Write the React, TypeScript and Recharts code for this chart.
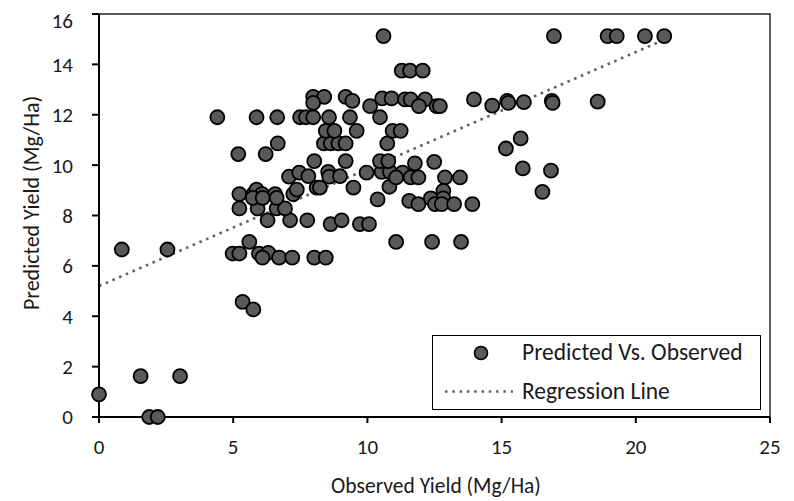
import React from 'react';
import { ScatterChart, Scatter, XAxis, YAxis, ReferenceLine, ReferenceArea } from 'recharts';

const observed = [
  0, 1.87, 2.19, 1.55, 3.02, 0.85, 2.55, 5.35, 5.75, 4.98, 5.23, 5.96, 6.31, 6.09, 6.71, 7.2, 8.02, 8.45, 5.6, 11.07, 12.41, 13.49,
  6.28, 7.12, 7.76, 8.63, 9.04, 9.72, 10.06,
  5.23, 5.91, 6.62, 6.93,
  5.23, 5.75, 5.87, 6.08, 6.56, 5.73, 6.1, 6.62, 7.24, 7.37, 8.11, 8.23, 9.48, 10.82, 10.38,
  7.08, 7.46, 7.8, 8.54, 8.58, 8.98, 9.97, 10.53, 10.84, 11.31, 11.07, 11.61, 11.9, 12.89, 13.45,
  8.02, 9.19, 10.47, 10.78, 11.77, 12.49,
  5.19, 6.21,
  6.66, 8.38, 8.64, 8.92, 9.19, 10.74,
  8.45, 8.77, 9.6, 10.94, 11.24,
  4.41, 5.87, 6.64, 7.49, 7.71, 7.98, 8.57, 9.35, 10.47,
  7.98, 8.39, 9.19, 9.44, 10.55, 10.9, 7.98, 10.1, 11.4, 11.61, 12.15, 11.92, 12.58, 12.7, 13.97, 14.65, 15.21, 15.25, 15.83, 16.87, 16.9, 18.58,
  11.28, 11.59, 12.06,
  10.6, 16.95, 18.95, 19.29, 20.34, 21.06,
  15.71, 15.16, 15.79, 16.84, 16.52,
  12.36, 12.83, 12.83, 11.56, 11.9, 12.52, 12.77, 13.23, 13.91,
];

const predicted = [
  0.9, 0, 0, 1.62, 1.62, 6.65, 6.65, 4.57, 4.27, 6.49, 6.49, 6.49, 6.52, 6.33, 6.33, 6.33, 6.33, 6.33, 6.95, 6.95, 6.95, 6.95,
  7.81, 7.81, 7.81, 7.66, 7.81, 7.66, 7.66,
  8.28, 8.28, 8.28, 8.28,
  8.85, 8.85, 9.03, 8.85, 8.85, 8.7, 8.7, 8.7, 8.85, 9.03, 9.11, 9.11, 9.11, 9.14, 8.64,
  9.54, 9.7, 9.56, 9.73, 9.54, 9.56, 9.7, 9.73, 9.73, 9.7, 9.51, 9.51, 9.51, 9.51, 9.51,
  10.16, 10.16, 10.16, 10.16, 10.07, 10.13,
  10.44, 10.44,
  10.86, 10.86, 10.86, 10.86, 10.86, 10.86,
  11.36, 11.36, 11.36, 11.36, 11.36,
  11.9, 11.9, 11.9, 11.9, 11.9, 11.9, 11.9, 11.9, 11.9,
  12.71, 12.71, 12.71, 12.55, 12.65, 12.65, 12.47, 12.34, 12.61, 12.61, 12.61, 12.34, 12.34, 12.34, 12.61, 12.36, 12.55, 12.47, 12.5, 12.55, 12.47, 12.52,
  13.75, 13.75, 13.75,
  15.12, 15.12, 15.12, 15.12, 15.12, 15.12,
  11.06, 10.66, 9.87, 9.78, 8.94,
  8.68, 8.98, 8.68, 8.58, 8.45, 8.45, 8.45, 8.45, 8.45,
];

const xTicks = [0, 5, 10, 15, 20, 25];
const yTicks = [0, 2, 4, 6, 8, 10, 12, 14, 16];

// regression line end points
const regressionStart = { x: 0, y: 5.2 };
const regressionEnd = { x: 21.1, y: 15.0 };

const points = observed.map((x, i) => ({ x, y: predicted[i] }));

const FONT = 'Carlito, Lato, sans-serif';
const TEXT = '#1a1a1a';
const DOT_FILL = '#595959';
const LINE_GRAY = '#626262';

const Dot = (props: any) => (
  <circle cx={props.cx} cy={props.cy} r={7} fill={DOT_FILL} stroke="#000" strokeWidth={1.8} />
);

const YLabel = () => (
  <text
    x={23}
    y={195}
    transform="rotate(-90 23 195)"
    textAnchor="middle"
    dominantBaseline="central"
    fill={TEXT}
    fontSize={22}
    fontFamily={FONT}
  >
    Predicted Yield (Mg/Ha)
  </text>
);

const XLabel = () => (
  <text x={428} y={478} textAnchor="middle" dominantBaseline="central" fill={TEXT} fontSize={21.5} fontFamily={FONT}>
    Observed Yield (Mg/Ha)
  </text>
);

const LegendBox = () => (
  <div
    style={{
      position: 'absolute',
      left: 424,
      top: 327,
      width: 329,
      height: 75,
      border: '1.5px solid #000',
      boxSizing: 'border-box',
      background: '#fff',
      fontFamily: FONT,
      fontSize: 23.5,
      color: TEXT,
    }}
  >
    <svg width={326} height={72} style={{ position: 'absolute', left: 0, top: 0 }}>
      <circle cx={48} cy={17} r={6.5} fill={DOT_FILL} stroke="#000" strokeWidth={1.6} />
      <line x1={12} y1={55.5} x2={80} y2={55.5} stroke={LINE_GRAY} strokeWidth={2.5} strokeDasharray="2.5 4.8" />
    </svg>
    <span style={{ position: 'absolute', left: 89, top: 17, transform: 'translateY(-50%)', lineHeight: 1, whiteSpace: 'nowrap' }}>
      Predicted Vs. Observed
    </span>
    <span style={{ position: 'absolute', left: 89, top: 55.5, transform: 'translateY(-50%)', lineHeight: 1, whiteSpace: 'nowrap' }}>
      Regression Line
    </span>
  </div>
);

export default function App() {
  return (
    <div style={{ position: 'relative', width: 786, height: 493 }}>
      <ScatterChart width={786} height={493} margin={{ top: 6, right: 24, bottom: 0, left: 0 }}>
        <XAxis
          type="number"
          dataKey="x"
          domain={[0, 25]}
          ticks={xTicks}
          height={84}
          tickSize={6}
          tickMargin={16}
          axisLine={{ stroke: '#000', strokeWidth: 2 }}
          tickLine={{ stroke: '#000', strokeWidth: 2 }}
          tick={{ fill: TEXT, fontSize: 21, fontFamily: FONT }}
          label={{ content: XLabel }}
        />
        <YAxis
          type="number"
          dataKey="y"
          domain={[0, 16]}
          ticks={yTicks}
          width={91}
          tickSize={7}
          tickMargin={19}
          axisLine={{ stroke: '#000', strokeWidth: 2 }}
          tickLine={{ stroke: '#000', strokeWidth: 2 }}
          tick={{ fill: TEXT, fontSize: 21, fontFamily: FONT }}
          label={{ content: YLabel }}
        />
        <ReferenceArea x1={0} x2={25} y1={0} y2={16} fill="none" stroke="#222" strokeWidth={1.4} />
        <ReferenceLine
          segment={[regressionStart, regressionEnd]}
          stroke={LINE_GRAY}
          strokeWidth={2.6}
          strokeDasharray="2.6 4.7"
        />
        <Scatter data={points} shape={Dot} isAnimationActive={false} />
      </ScatterChart>
      <LegendBox />
    </div>
  );
}
